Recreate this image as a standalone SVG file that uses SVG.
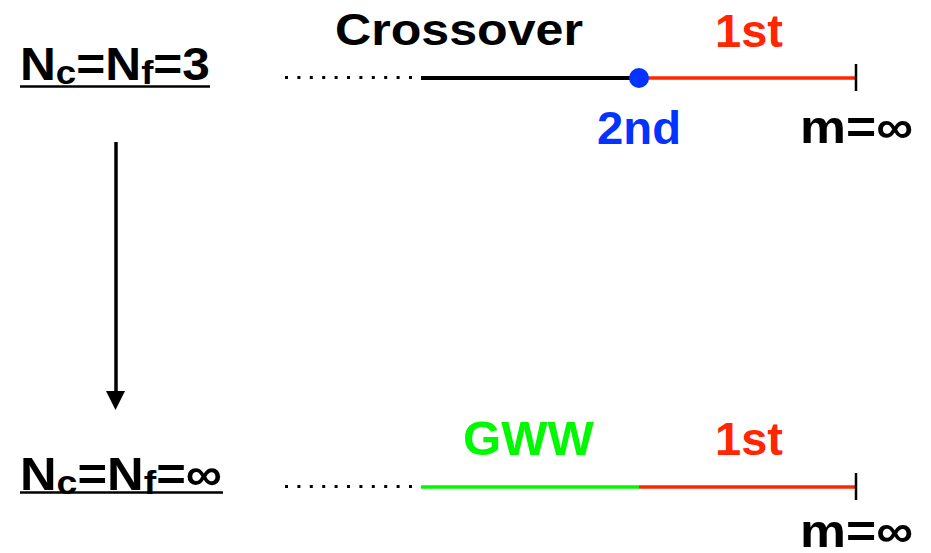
<svg xmlns="http://www.w3.org/2000/svg" width="931" height="553" viewBox="0 0 931 553">
<style>
text{font-family:"Liberation Sans",Arial,Helvetica,sans-serif;font-weight:bold}
.lbl{font-size:46px}
.sub{font-size:34px}
.dot{stroke:#000;stroke-width:3;stroke-dasharray:3 9.4;fill:none}
.tick{stroke:#000;stroke-width:2.5}
.red{stroke:#FF2600;stroke-width:3.5}
</style>
<rect width="931" height="553" fill="#fff"/>
<g id="connectors">
<line x1="116" y1="142" x2="116" y2="392" stroke="#000" stroke-width="3.5"/>
<path d="M106,391 L125,391 L115.5,410 Z" fill="#000"/>
</g>
<g id="label-top">
<text x="20" y="80" class="lbl" textLength="190" lengthAdjust="spacingAndGlyphs">N<tspan class="sub" dy="4">c</tspan><tspan dy="-4">=N</tspan><tspan class="sub" dy="4">f</tspan><tspan dy="-4">=3</tspan></text>
<line x1="20" y1="86.5" x2="210" y2="86.5" stroke="#000" stroke-width="2.5"/>
</g>
<g id="label-bottom">
<text x="20" y="490" class="lbl" textLength="202" lengthAdjust="spacingAndGlyphs">N<tspan class="sub" dy="4">c</tspan><tspan dy="-4">=N</tspan><tspan class="sub" dy="4">f</tspan><tspan dy="-4">=∞</tspan></text>
<line x1="20" y1="492.5" x2="223" y2="492.5" stroke="#000" stroke-width="2.5"/>
</g>
<g id="top-line">
<line x1="285" y1="77.5" x2="416" y2="77.5" class="dot"/>
<line x1="421" y1="78" x2="639" y2="78" stroke="#000" stroke-width="4"/>
<line x1="639" y1="78" x2="856" y2="78" class="red"/>
<line x1="856" y1="64" x2="856" y2="91" class="tick"/>
<circle cx="639" cy="78" r="10" fill="#0433FF"/>
</g>
<g id="crossover">
<text x="335" y="45" font-size="45" textLength="248" lengthAdjust="spacingAndGlyphs">Crossover</text>
</g>
<g id="first-top">
<text x="715" y="47" font-size="47" fill="#FF2600" textLength="68" lengthAdjust="spacingAndGlyphs">1st</text>
</g>
<g id="second">
<text x="597" y="144" font-size="47" fill="#0433FF" textLength="84" lengthAdjust="spacingAndGlyphs">2nd</text>
</g>
<g id="m-top">
<text x="800" y="143" font-size="47" textLength="113" lengthAdjust="spacingAndGlyphs">m=∞</text>
</g>
<g id="bottom-line">
<line x1="285" y1="486.5" x2="416" y2="486.5" class="dot"/>
<line x1="421" y1="487" x2="639" y2="487" stroke="#00F900" stroke-width="3.5"/>
<line x1="639" y1="487" x2="856" y2="487" class="red"/>
<line x1="856" y1="473" x2="856" y2="500" class="tick"/>
</g>
<g id="gww">
<text x="463" y="455" font-size="48" fill="#00F900" textLength="131" lengthAdjust="spacingAndGlyphs">GWW</text>
</g>
<g id="first-bottom">
<text x="715" y="455" font-size="47" fill="#FF2600" textLength="68" lengthAdjust="spacingAndGlyphs">1st</text>
</g>
<g id="m-bottom">
<text x="800" y="547" font-size="47" textLength="113" lengthAdjust="spacingAndGlyphs">m=∞</text>
</g>
</svg>
